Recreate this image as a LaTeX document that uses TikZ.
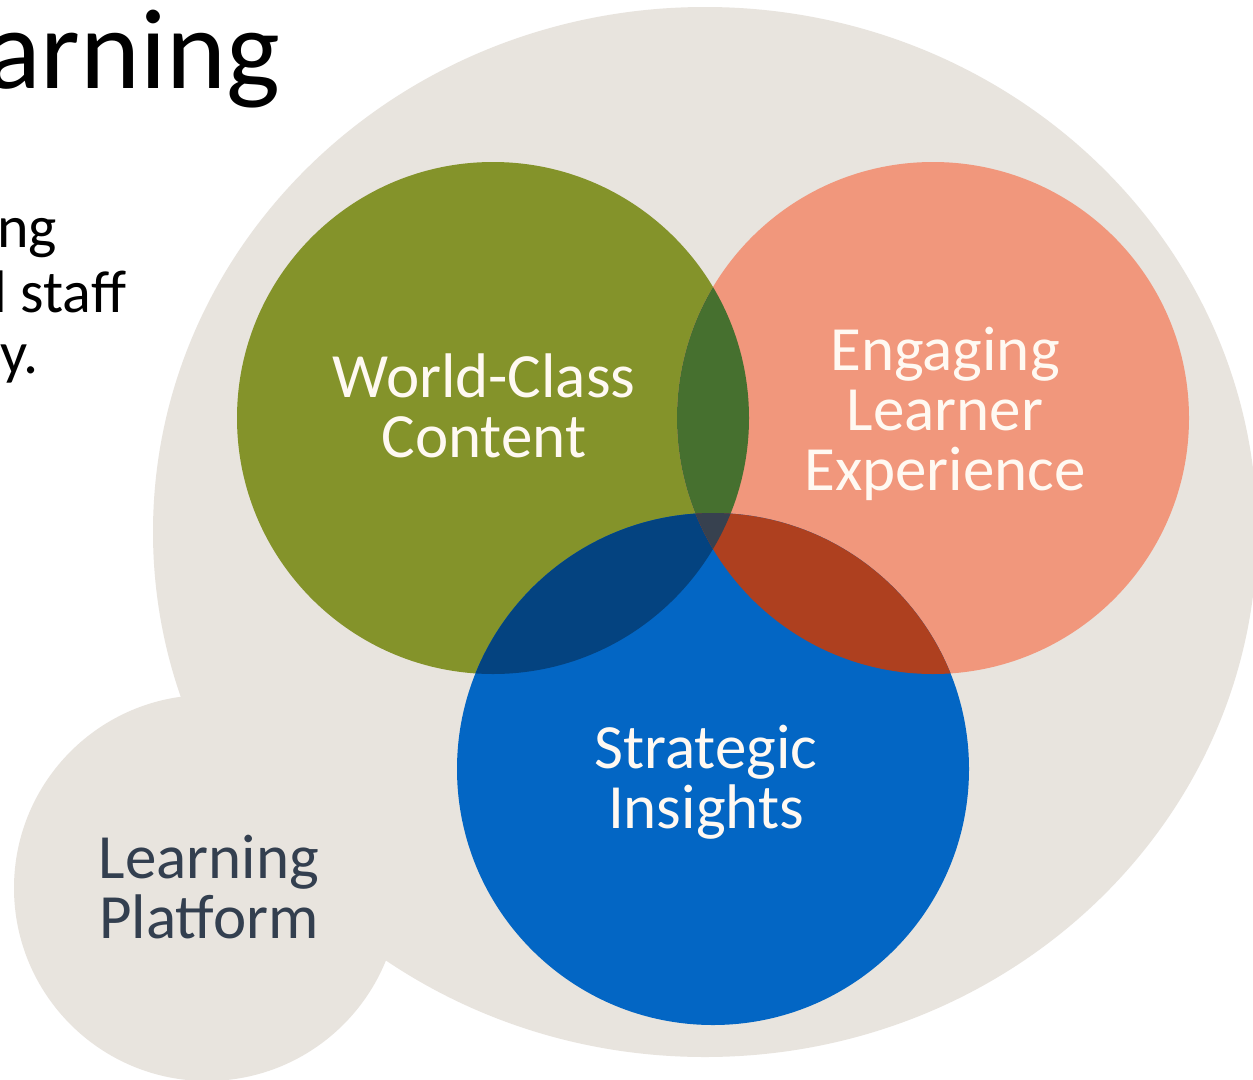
\documentclass[tikz,border=0pt]{standalone}
\usepackage{fontspec}
\setmainfont{Carlito}
\definecolor{beige}{HTML}{E8E4DE}
\definecolor{olivec}{HTML}{84932A}
\definecolor{salmonc}{HTML}{F1977C}
\definecolor{bluec}{HTML}{0366C4}
\definecolor{gsc}{HTML}{46702F}
\definecolor{gbc}{HTML}{044380}
\definecolor{sbc}{HTML}{AE401F}
\definecolor{allc}{HTML}{37414F}
\definecolor{creamc}{HTML}{FFF9F2}
\definecolor{slatec}{HTML}{333F4F}
\tikzset{
  venn/.style={circle, minimum size=512pt, inner sep=0pt, draw=none},
  venntext/.style={align=center, anchor=base, inner sep=0pt, text=creamc,
    font=\fontsize{63}{60}\selectfont},
  bodytext/.style={anchor=base west, inner sep=0pt, text=black,
    font=\fontsize{60}{60}\selectfont},
}
\begin{document}
\begin{tikzpicture}[x=1pt,y=-1pt]
\useasboundingbox (0,0) rectangle (1253,1079);
\clip (0,0) rectangle (1253,1079);
\fill[white] (0,0) rectangle (1253,1079);
% background platform shapes
\fill[beige] (705,532) ellipse [x radius=552pt, y radius=525pt];
\fill[beige] (207,888) circle (193pt);
% title and body fragments
\node[anchor=base west, inner sep=0pt, font=\fontsize{114}{114}\selectfont] (title) at (-14,88) {arning};
\node[bodytext] (b1) at (-3,247) {ng};
\node[bodytext] (b2) at (-7,312) {l staff};
\node[bodytext] (b3) at (0,373) {y.};
% Venn circles
\node[venn, fill=olivec] (wc) at (493,418) {};
\node[venn, fill=salmonc] (el) at (933,418) {};
\node[venn, fill=bluec] (si) at (713,769) {};
\begin{scope}
  \clip (wc.center) circle (256pt);
  \fill[gsc] (el.center) circle (256pt);
\end{scope}
\begin{scope}
  \clip (wc.center) circle (256pt);
  \fill[gbc] (si.center) circle (256pt);
\end{scope}
\begin{scope}
  \clip (el.center) circle (256pt);
  \fill[sbc] (si.center) circle (256pt);
\end{scope}
\begin{scope}
  \clip (wc.center) circle (256pt);
  \clip (el.center) circle (256pt);
  \fill[allc] (si.center) circle (256pt);
\end{scope}
% labels (base anchor = baseline of last line)
\node[venntext] (wct) at (484,457) {World-Class\\Content};
\node[venntext] (elt) at (945,490) {Engaging\\Learner\\Experience};
\node[venntext] (sit) at (706,828) {Strategic\\Insights};
\node[venntext, text=slatec] (lpt) at (209,938) {Learning\\Platform};
\end{tikzpicture}
\end{document}
